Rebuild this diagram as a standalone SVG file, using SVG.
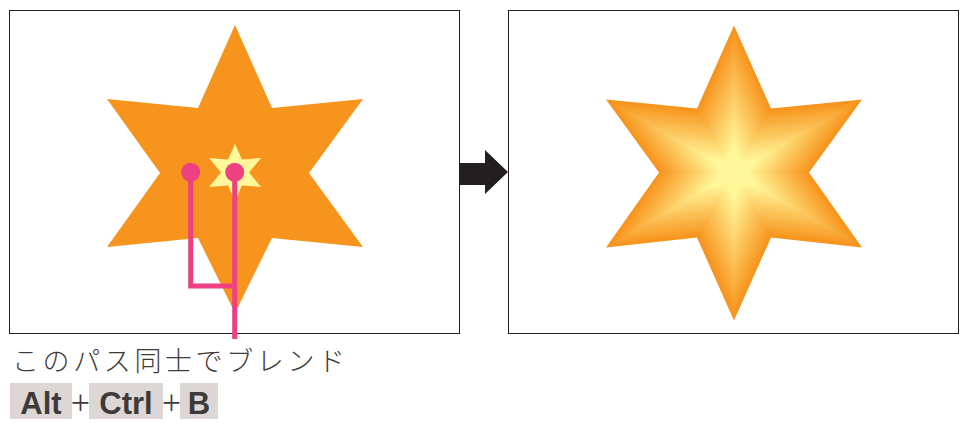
<svg xmlns="http://www.w3.org/2000/svg" xmlns:xlink="http://www.w3.org/1999/xlink" width="970" height="429" viewBox="0 0 970 429">
<style>
.frame{fill:#fff;stroke:#231f20;stroke-width:1}
.pink{fill:#ee4181}
.conn{fill:none;stroke:#ee4181;stroke-width:5}
.jp{font-family:"Noto Sans CJK JP","Noto Sans",sans-serif;font-weight:300;font-size:27px;fill:#3e3a39;letter-spacing:3.6px}
.key{fill:#dcd7d4}
.kt{font-family:"Liberation Sans","Open Sans",sans-serif;font-weight:bold;font-size:31px;fill:#3e3a39;text-anchor:middle}
.plus{font-family:"Noto Sans","Liberation Sans",sans-serif;font-weight:300;font-size:34px;fill:#3e3a39;text-anchor:middle}
</style>
<defs>
<path id="star" d="M0,-147 L37,-64 L128,-73 L75,0 L128,75 L37,65 L0,148 L-37,65 L-128,75 L-75,0 L-128,-73 L-37,-64 Z"/>
</defs>
<rect width="970" height="429" fill="#fff"/>
<g id="left-frame">
<rect class="frame" x="9.5" y="10.5" width="450" height="323"/>
<g id="big-star">
<path fill="#f7941d" d="M235,25 L272,108 L363,99 L309,173 L363,247 L272,238 L235,313 L198,238 L107,247 L160,173 L107,99 L198,108 Z"/>
</g>
<g id="small-star">
<path fill="#fff799" d="M235,144 L242,159.5 L261,158 L249,172.5 L261,187 L242,185.5 L235,201 L228,185.5 L209,187 L221,172.5 L209,158 L228,159.5 Z"/>
</g>
</g>
<g id="right-frame">
<rect class="frame" x="508.5" y="10.5" width="450" height="323"/>
<g id="blend-star">
<use xlink:href="#star" transform="translate(734 172.5) scale(1)" fill="rgb(247,148,29)"/>
<use xlink:href="#star" transform="translate(734 172.5) scale(0.972)" fill="rgb(247,151,33)"/>
<use xlink:href="#star" transform="translate(734 172.5) scale(0.944)" fill="rgb(248,155,38)"/>
<use xlink:href="#star" transform="translate(734 172.5) scale(0.916)" fill="rgb(248,158,42)"/>
<use xlink:href="#star" transform="translate(734 172.5) scale(0.888)" fill="rgb(248,162,46)"/>
<use xlink:href="#star" transform="translate(734 172.5) scale(0.860)" fill="rgb(248,165,50)"/>
<use xlink:href="#star" transform="translate(734 172.5) scale(0.832)" fill="rgb(249,169,55)"/>
<use xlink:href="#star" transform="translate(734 172.5) scale(0.804)" fill="rgb(249,172,59)"/>
<use xlink:href="#star" transform="translate(734 172.5) scale(0.777)" fill="rgb(249,175,63)"/>
<use xlink:href="#star" transform="translate(734 172.5) scale(0.749)" fill="rgb(249,179,67)"/>
<use xlink:href="#star" transform="translate(734 172.5) scale(0.721)" fill="rgb(250,182,72)"/>
<use xlink:href="#star" transform="translate(734 172.5) scale(0.693)" fill="rgb(250,186,76)"/>
<use xlink:href="#star" transform="translate(734 172.5) scale(0.665)" fill="rgb(250,189,80)"/>
<use xlink:href="#star" transform="translate(734 172.5) scale(0.637)" fill="rgb(251,192,85)"/>
<use xlink:href="#star" transform="translate(734 172.5) scale(0.609)" fill="rgb(251,196,89)"/>
<use xlink:href="#star" transform="translate(734 172.5) scale(0.581)" fill="rgb(251,199,93)"/>
<use xlink:href="#star" transform="translate(734 172.5) scale(0.553)" fill="rgb(251,203,97)"/>
<use xlink:href="#star" transform="translate(734 172.5) scale(0.525)" fill="rgb(252,206,102)"/>
<use xlink:href="#star" transform="translate(734 172.5) scale(0.497)" fill="rgb(252,209,106)"/>
<use xlink:href="#star" transform="translate(734 172.5) scale(0.469)" fill="rgb(252,213,110)"/>
<use xlink:href="#star" transform="translate(734 172.5) scale(0.441)" fill="rgb(253,216,115)"/>
<use xlink:href="#star" transform="translate(734 172.5) scale(0.413)" fill="rgb(253,220,119)"/>
<use xlink:href="#star" transform="translate(734 172.5) scale(0.386)" fill="rgb(253,223,123)"/>
<use xlink:href="#star" transform="translate(734 172.5) scale(0.358)" fill="rgb(253,227,127)"/>
<use xlink:href="#star" transform="translate(734 172.5) scale(0.330)" fill="rgb(254,230,132)"/>
<use xlink:href="#star" transform="translate(734 172.5) scale(0.302)" fill="rgb(254,233,136)"/>
<use xlink:href="#star" transform="translate(734 172.5) scale(0.274)" fill="rgb(254,237,140)"/>
<use xlink:href="#star" transform="translate(734 172.5) scale(0.246)" fill="rgb(254,240,144)"/>
<use xlink:href="#star" transform="translate(734 172.5) scale(0.218)" fill="rgb(255,244,149)"/>
<use xlink:href="#star" transform="translate(734 172.5) scale(0.190)" fill="rgb(255,247,153)"/>
</g>
</g>
<g id="arrow">
<polygon fill="#231f20" points="460,163 485,163 485,150 508,172 485,194 485,185 460,185"/>
</g>
<g id="connectors">
<path class="conn" d="M190.7,172 V286 H234.7"/>
<path class="conn" d="M234.7,172 V339"/>
</g>
<g id="anchor-points">
<circle class="pink" cx="190.7" cy="172.3" r="9.5"/>
<circle class="pink" cx="234.7" cy="172.3" r="9.5"/>
</g>
<g id="caption">
<text class="jp" x="12" y="371">このパス同士でブレンド</text>
</g>
<g id="shortcut">
<rect class="key" x="10" y="383" width="62" height="36"/>
<rect class="key" x="89" y="383" width="74" height="36"/>
<rect class="key" x="180" y="383" width="38" height="36"/>
<text class="kt" x="41" y="414">Alt</text>
<text class="plus" x="80.5" y="415">+</text>
<text class="kt" x="126" y="414">Ctrl</text>
<text class="plus" x="171.5" y="415">+</text>
<text class="kt" x="199" y="414">B</text>
</g>
</svg>
